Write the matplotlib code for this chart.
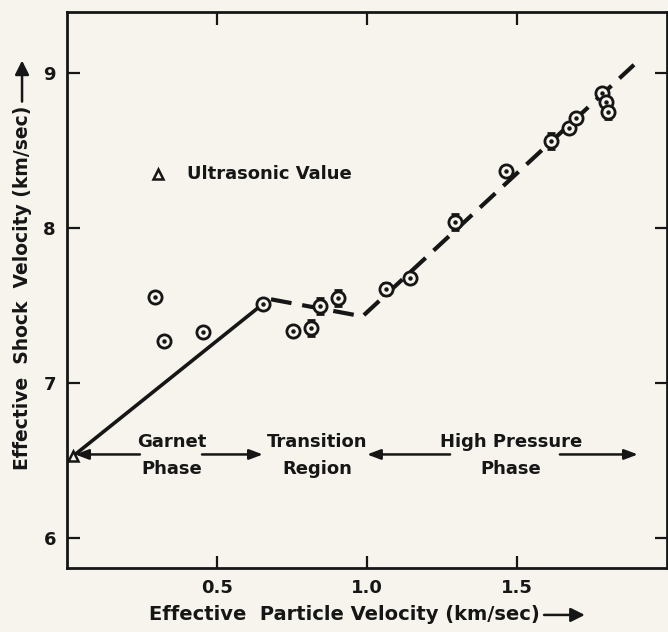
"""
Effective shock velocity vs effective particle velocity (garnet Hugoniot)
"""

import matplotlib

matplotlib.use("Agg")
import matplotlib.pyplot as plt

# Measured points (particle velocity, shock velocity, error bar)
up = [0.293, 0.323, 0.453, 0.653, 0.753, 0.813, 0.843, 0.903,
      1.063, 1.143, 1.293, 1.463, 1.613, 1.673, 1.697, 1.783, 1.797, 1.803]
us = [7.555, 7.27, 7.33, 7.51, 7.335, 7.355, 7.497, 7.55,
      7.606, 7.677, 8.039, 8.368, 8.561, 8.645, 8.71, 8.87, 8.81, 8.748]
us_err = [0, 0, 0, 0, 0, 0.05, 0.05, 0.05,
          0.04, 0, 0.05, 0, 0.05, 0, 0, 0, 0, 0.05]

# Ultrasonic value
ultra_up = [0.02]
ultra_us = [6.53]

# Fitted segments
garnet_x = [0.02, 0.653]
garnet_y = [6.53, 7.51]
hp_x = [0.68, 0.985, 1.89]
hp_y = [7.54, 7.43, 9.05]

# Region labels
regions = ["Garnet\nPhase", "Transition\nRegion", "High Pressure\nPhase"]
region_x = [0.35, 0.835, 1.48]

ink = "#161616"
paper = "#f6f4ec"
fs = 13

fig = plt.figure(figsize=(6.68, 6.32), dpi=100, facecolor=paper)
ax = fig.add_axes([0.1003, 0.1013, 0.8982, 0.8797], facecolor=paper)

ax.plot(garnet_x, garnet_y, "-", color=ink, linewidth=2.6)
ax.plot(hp_x, hp_y, "--", color=ink, linewidth=3.0, dashes=(5, 2.6))

ax.errorbar(up, us, yerr=us_err, fmt="none", ecolor=ink, elinewidth=2,
            capsize=3, capthick=2)
ax.plot(up, us, "o", markersize=9.5, markerfacecolor=paper,
        markeredgecolor=ink, markeredgewidth=2.0)
ax.plot(up, us, "o", markersize=2.2, color=ink)

ax.plot(ultra_up, ultra_us, "^", markersize=7, markerfacecolor=paper,
        markeredgecolor=ink, markeredgewidth=1.8, clip_on=False)

# legend entry
ax.plot([0.303], [8.344], "^", markersize=7, markerfacecolor=paper,
        markeredgecolor=ink, markeredgewidth=1.8)
ax.text(0.4, 8.344, "Ultrasonic Value", fontsize=fs, fontweight="bold",
        color=ink, va="center", ha="left")

# region labels and arrows
for lab, x in zip(regions, region_x):
    ax.text(x, 6.535, lab, fontsize=fs, fontweight="bold", color=ink,
            ha="center", va="center", linespacing=1.6)

arrows = [(0.243, 0.027), (0.45, 0.653), (1.277, 1.0), (1.643, 1.903)]
for tail, head in arrows:
    ax.annotate("", xy=(head, 6.541), xytext=(tail, 6.541),
                arrowprops=dict(arrowstyle="-|>,head_length=0.8,head_width=0.3",
                                color=ink, lw=1.8, shrinkA=0, shrinkB=0))

ax.set_xlim(0, 2.0)
ax.set_ylim(5.81, 9.39)
ax.set_xticks([0.5, 1.0, 1.5])
ax.set_xticklabels(["0.5", "1.0", "1.5"])
ax.set_yticks([6, 7, 8, 9])
ax.tick_params(direction="in", length=9, width=1.6, colors=ink,
               labelsize=fs, top=True, right=True, pad=8)
for lbl in ax.get_xticklabels() + ax.get_yticklabels():
    lbl.set_fontweight("bold")
for sp in ax.spines.values():
    sp.set_linewidth(2)
    sp.set_color(ink)

# axis titles with arrows
xt = fig.text(0.515, 0.027, "Effective  Particle Velocity (km/sec)",
              fontsize=14, fontweight="bold", color=ink, ha="center",
              va="center")
yt = fig.text(0.033, 0.544, "Effective  Shock  Velocity (km/sec)",
              fontsize=13.5, fontweight="bold", color=ink, ha="center",
              va="center", rotation=90)

fig.canvas.draw()
inv = fig.transFigure.inverted()
bx = xt.get_window_extent().transformed(inv)
by = yt.get_window_extent().transformed(inv)
fig.add_artist(matplotlib.patches.FancyArrowPatch(
    (bx.x1 + 0.007, 0.027), (bx.x1 + 0.068, 0.027), transform=fig.transFigure,
    arrowstyle="-|>,head_length=0.6,head_width=0.3", color=ink, lw=1.8,
    mutation_scale=14, shrinkA=0, shrinkB=0))
fig.add_artist(matplotlib.patches.FancyArrowPatch(
    (0.033, by.y1 + 0.007), (0.033, by.y1 + 0.072), transform=fig.transFigure,
    arrowstyle="-|>,head_length=0.6,head_width=0.3", color=ink, lw=1.8,
    mutation_scale=14, shrinkA=0, shrinkB=0))

fig.savefig("out.png", dpi=100, facecolor=paper)
